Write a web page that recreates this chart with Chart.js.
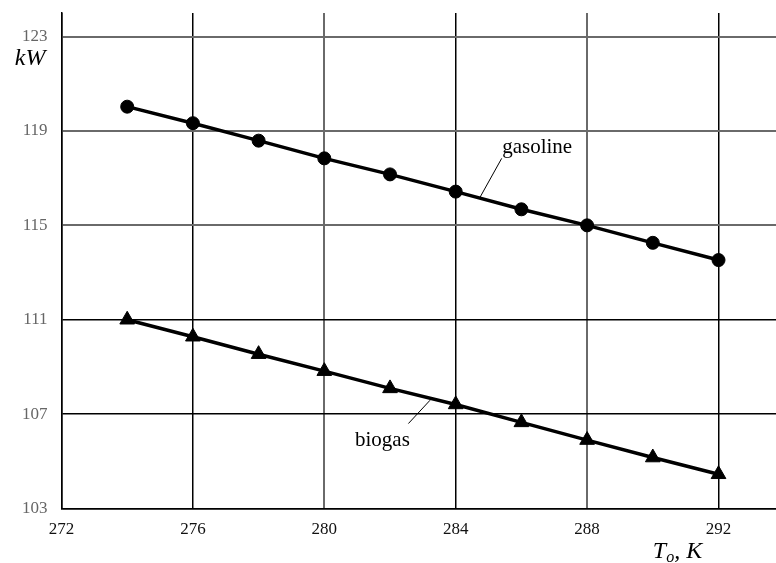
<!DOCTYPE html>
<html>
<head>
<meta charset="utf-8">
<script src="https://cdn.jsdelivr.net/npm/chart.js@4"></script>
<style>
  html, body { margin: 0; padding: 0; background: #fff; }
</style>
</head>
<body>
<canvas id="c" width="776" height="563"></canvas>
<script>
// Engine power vs. ambient air temperature
const temperatures = [274, 276, 278, 280, 282, 284, 286, 288, 290, 292];
const gasolinePower = [120.03, 119.33, 118.59, 117.84, 117.16, 116.43, 115.68, 115.0, 114.26, 113.53];
const biogasPower = [111.0, 110.28, 109.54, 108.82, 108.09, 107.41, 106.65, 105.9, 105.16, 104.45];
const xTickValues = [272, 276, 280, 284, 288, 292];
const yTickValues = [103, 107, 111, 115, 119, 123];

const SERIF = '"Liberation Serif", "Times New Roman", serif';

// Series name labels with thin leader lines, placed in data coordinates
const seriesNotes = [
  { text: 'gasoline', at: [286.48, 118.06], lead: [[285.40, 117.84], [284.74, 116.19]] },
  { text: 'biogas',   at: [281.77, 105.64], lead: [[283.22, 107.59], [282.56, 106.60]] }
];

const notesPlugin = {
  id: 'notes',
  afterDatasetsDraw(chart) {
    const ctx = chart.ctx;
    const xs = chart.scales.x, ys = chart.scales.y;
    ctx.save();
    ctx.fillStyle = '#000';
    ctx.strokeStyle = '#000';
    ctx.lineWidth = 1;
    ctx.font = '21px ' + SERIF;
    ctx.textAlign = 'center';
    ctx.textBaseline = 'alphabetic';
    seriesNotes.forEach(n => {
      ctx.beginPath();
      ctx.moveTo(xs.getPixelForValue(n.lead[0][0]), ys.getPixelForValue(n.lead[0][1]));
      ctx.lineTo(xs.getPixelForValue(n.lead[1][0]), ys.getPixelForValue(n.lead[1][1]));
      ctx.stroke();
      ctx.fillText(n.text, xs.getPixelForValue(n.at[0]), ys.getPixelForValue(n.at[1]));
    });

    // Axis names: kW beside the top tick, T_o, K under the right end of the x axis
    const area = chart.chartArea;
    ctx.font = 'italic 24px ' + SERIF;
    ctx.textAlign = 'right';
    ctx.textBaseline = 'alphabetic';
    ctx.fillText('kW', area.left - 16, ys.getPixelForValue(123) + 28);

    let x = xs.getPixelForValue(290);
    const base = area.bottom + 49;
    ctx.textAlign = 'left';
    ctx.font = 'italic 24px ' + SERIF;
    ctx.fillText('T', x, base);
    x += ctx.measureText('T').width;
    ctx.font = 'italic 16px ' + SERIF;
    ctx.fillText('o', x, base + 4);
    x += ctx.measureText('o').width;
    ctx.font = 'italic 24px ' + SERIF;
    ctx.fillText(', K', x, base);
    ctx.restore();
  }
};

// No extra room reserved for tick labels overhanging the plot area
const noOverhang = s => { s.paddingTop = 0; s.paddingBottom = 0; s.paddingLeft = 0; s.paddingRight = 0; };

const grayX = [280, 288];
const grayY = [115, 119, 123];

new Chart(document.getElementById('c'), {
  type: 'line',
  data: {
    datasets: [
      {
        label: 'gasoline',
        data: temperatures.map((t, i) => ({ x: t, y: gasolinePower[i] })),
        borderColor: '#000',
        backgroundColor: '#000',
        borderWidth: 3.5,
        pointStyle: 'circle',
        pointRadius: 6.5,
        pointBorderWidth: 1,
        tension: 0
      },
      {
        label: 'biogas',
        data: temperatures.map((t, i) => ({ x: t, y: biogasPower[i] })),
        borderColor: '#000',
        backgroundColor: '#000',
        borderWidth: 3.5,
        pointStyle: 'triangle',
        pointRadius: 8.5,
        pointBorderWidth: 1,
        tension: 0
      }
    ]
  },
  options: {
    responsive: false,
    devicePixelRatio: 1,
    animation: false,
    layout: { autoPadding: false, padding: { top: 13, right: 0, left: 0, bottom: 0 } },
    plugins: { legend: { display: false }, tooltip: { enabled: false } },
    scales: {
      x: {
        type: 'linear',
        min: 272,
        max: 293.75,
        afterBuildTicks: s => { s.ticks = xTickValues.map(v => ({ value: v })); },
        afterFit: s => { s.height = 54.5; noOverhang(s); },
        grid: {
          drawTicks: false,
          color: c => (c.tick && grayX.includes(c.tick.value)) ? '#6a6a6a' : '#000',
          lineWidth: c => (c.tick && grayX.includes(c.tick.value)) ? 2 : 1.5
        },
        border: { display: true, color: '#000', width: 1.5 },
        ticks: {
          padding: 11,
          color: '#111',
          font: { family: SERIF, size: 17 },
          callback: v => String(v)
        }
      },
      y: {
        type: 'linear',
        min: 103,
        max: 124,
        afterBuildTicks: s => { s.ticks = yTickValues.map(v => ({ value: v })); },
        afterFit: s => { s.width = 61.5; noOverhang(s); },
        grid: {
          drawTicks: false,
          color: c => (c.tick && grayY.includes(c.tick.value)) ? '#6a6a6a' : '#000',
          lineWidth: c => (c.tick && grayY.includes(c.tick.value)) ? 2 : 1.5
        },
        border: { display: true, color: '#000', width: 1.5 },
        ticks: {
          padding: 14,
          color: '#666',
          font: { family: SERIF, size: 17 },
          callback: v => String(v)
        }
      }
    }
  },
  plugins: [notesPlugin]
});
</script>
</body>
</html>
